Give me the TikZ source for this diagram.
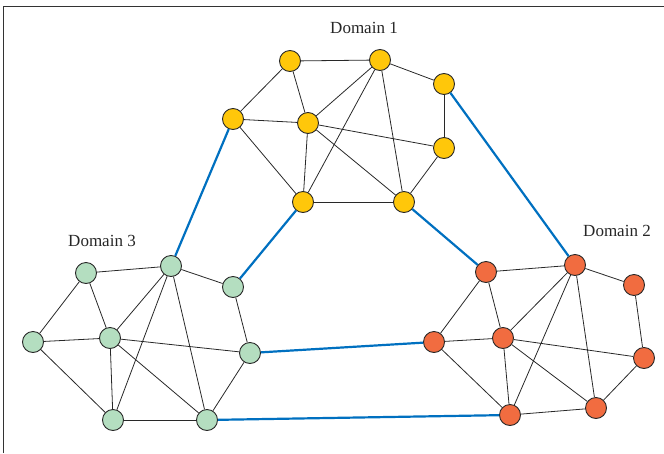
\documentclass[tikz,border=0pt]{standalone}
\usepackage{fontspec}
\setmainfont{Liberation Serif}
\definecolor{dyellow}{RGB}{255,199,10}
\definecolor{dorange}{RGB}{241,108,64}
\definecolor{dgreen}{RGB}{180,222,192}
\definecolor{dblue}{RGB}{0,112,192}
\definecolor{edgegray}{RGB}{40,40,40}
\tikzset{
  vtx/.style={circle,draw=edgegray,line width=0.9pt,minimum size=21pt,inner sep=0pt},
  yv/.style={vtx,fill=dyellow},
  ov/.style={vtx,fill=dorange},
  gv/.style={vtx,fill=dgreen},
  inner/.style={draw=edgegray,line width=0.8pt},
  link/.style={draw=dblue,line width=2.2pt},
  lbl/.style={font=\fontsize{17}{19}\selectfont,text=black!85,inner sep=0pt}
}
\begin{document}
\begin{tikzpicture}[x=1pt,y=-1pt]
\useasboundingbox (0,0) rectangle (664,453);
\draw[line width=0.9pt,black!80] (3.5,453) -- (3.5,6.5) -- (664,6.5);
% Domain 1
\node[yv] (a1) at (290,61) {};
\node[yv] (a2) at (380,60) {};
\node[yv] (a3) at (444,84) {};
\node[yv] (a4) at (233,119) {};
\node[yv] (a5) at (308,123) {};
\node[yv] (a6) at (444,148) {};
\node[yv] (a7) at (303,202) {};
\node[yv] (a8) at (404,202) {};
% Domain 2
\node[ov] (b1) at (486,272) {};
\node[ov] (b2) at (575,265) {};
\node[ov] (b3) at (634,285) {};
\node[ov] (b4) at (434,342) {};
\node[ov] (b5) at (503,338) {};
\node[ov] (b6) at (644,358) {};
\node[ov] (b7) at (510,415) {};
\node[ov] (b8) at (596,408) {};
% Domain 3
\node[gv] (c1) at (86,273) {};
\node[gv] (c2) at (171,266) {};
\node[gv] (c3) at (233,287) {};
\node[gv] (c4) at (33,342) {};
\node[gv] (c5) at (110,338) {};
\node[gv] (c6) at (250,353) {};
\node[gv] (c7) at (113,420) {};
\node[gv] (c8) at (207,420) {};
% intra-domain edges
\foreach \d in {a,b,c}{
  \foreach \i/\j in {1/2,1/4,1/5,2/3,2/5,2/7,2/8,3/6,4/5,4/7,5/7,5/8,5/6,6/8,7/8}{
    \draw[inner] (\d\i) -- (\d\j);
  }
}
% inter-domain links
\draw[link] (a4) -- (c2);
\draw[link] (a7) -- (c3);
\draw[link] (a3) -- (b2);
\draw[link] (a8) -- (b1);
\draw[link] (c6) -- (b4);
\draw[link] (c8) -- (b7);
% labels
\node[lbl] (l1) at (364,28) {Domain 1};
\node[lbl] (l2) at (617,231) {Domain 2};
\node[lbl] (l3) at (102,241) {Domain 3};
\end{tikzpicture}
\end{document}
